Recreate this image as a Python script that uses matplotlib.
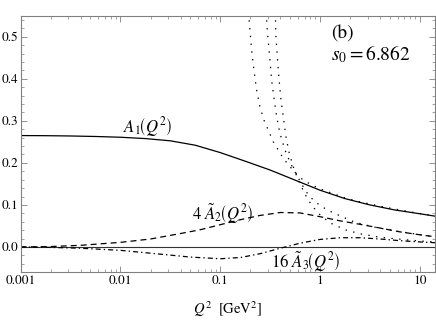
import numpy as np
import matplotlib
matplotlib.use("Agg")
from matplotlib import pyplot as plt
from matplotlib.ticker import LogLocator, MultipleLocator, FixedLocator, NullFormatter

plt.rcParams['font.family'] = ['STIXGeneral', 'DejaVu Serif']
plt.rcParams['mathtext.fontset'] = 'stix'
plt.rcParams['lines.scale_dashes'] = False

# A1 (solid)
q_a1 = [0.001, 0.00178, 0.00316, 0.00562, 0.01, 0.0178, 0.0316, 0.0562, 0.1, 0.178, 0.316,
        0.562, 1.0, 1.78, 3.16, 5.62, 10, 14.5]
a1 = [0.265, 0.2647, 0.2640, 0.2628, 0.2610, 0.2578, 0.2525, 0.2420, 0.2245, 0.2040, 0.1830,
      0.159, 0.135, 0.115, 0.100, 0.088, 0.079, 0.073]

# 4 A2 (dashed)
q_a2 = [0.001, 0.002, 0.004, 0.01, 0.02, 0.04, 0.063, 0.1, 0.16, 0.25, 0.4, 0.63, 1.0, 1.6, 2.5, 4.0, 6.3, 10, 14.5]
a2 = [0.0, 0.001, 0.004, 0.011, 0.019, 0.032, 0.041, 0.053, 0.065, 0.075, 0.082, 0.081, 0.072, 0.062, 0.054, 0.045, 0.036, 0.029, 0.024]

# 16 A3 (dash-dot)
q_a3 = [0.001, 0.002, 0.004, 0.01, 0.025, 0.05, 0.1, 0.16, 0.25, 0.4, 0.63, 1.0, 1.6, 2.5, 4.0, 6.3, 10, 14.5]
a3 = [0.0, -0.001, -0.003, -0.008, -0.017, -0.024, -0.028, -0.025, -0.016, -0.003, 0.009, 0.018, 0.022, 0.022, 0.019, 0.015, 0.012, 0.010]

# perturbative curves (dotted)
q_p1 = [0.1917, 0.2063, 0.2177, 0.2316, 0.2499, 0.2741, 0.3027, 0.3398, 0.3814, 0.4279, 0.4994,
        0.5829, 0.6742, 0.7922, 1.0, 1.346, 1.818, 2.5, 4.0, 8.0, 14.5]
p1 = [0.5576, 0.4675, 0.4201, 0.3727, 0.3332, 0.3017, 0.2780, 0.2502, 0.2306, 0.2109, 0.1910,
      0.1737, 0.1595, 0.1500, 0.1382, 0.1270, 0.1160, 0.1075, 0.0970, 0.0835, 0.0735]

q_p2 = [0.2884, 0.2958, 0.3148, 0.3273, 0.3476, 0.3674, 0.3964, 0.4450, 0.4994, 0.5604, 0.6289,
        0.7057, 0.7922, 0.9528, 1.172, 1.583, 2.237, 3.549, 6.32, 14.5]
p2 = [0.5576, 0.5149, 0.4438, 0.3964, 0.3490, 0.3095, 0.2701, 0.2306, 0.2021, 0.1784, 0.1571,
      0.1358, 0.1192, 0.1026, 0.0884, 0.0742, 0.0588, 0.0469, 0.0363, 0.0237]

q_p3 = [0.3565, 0.3614, 0.3814, 0.4029, 0.4279, 0.4554, 0.4914, 0.5389, 0.5869, 0.6436, 0.7224,
        0.8295, 1.0, 1.256, 1.776, 2.510, 3.983, 7.06, 14.5]
p3 = [0.5576, 0.4991, 0.4201, 0.3569, 0.3095, 0.2621, 0.2227, 0.1910, 0.1666, 0.1453, 0.1216,
      0.0979, 0.0765, 0.0576, 0.0410, 0.0315, 0.0232, 0.0173, 0.0114]

x_ticks = [0.001, 0.01, 0.1, 1, 10]
x_labels = ['0.001', '0.01', '0.1', '1', '10']

fig = plt.figure(figsize=(4.36, 3.21), dpi=100)
ax = fig.add_axes([0.0475, 0.152, 0.95, 0.799])

ax.axhline(0, color='#333333', lw=0.8)
ax.plot(q_a1, a1, color='black', lw=0.9)
ax.plot(q_a2, a2, color='black', lw=0.9, dashes=(4.3, 2.9))
ax.plot(q_a3, a3, color='black', lw=0.9, dashes=(3.6, 2.2, 1.0, 2.2))
for q, p in [(q_p1, p1), (q_p2, p2), (q_p3, p3)]:
    ax.plot(q, p, color='black', lw=0.9, dashes=(1.0, 4.6))

ax.set_xscale('log')
ax.set_xlim(0.001, 14.16)
ax.set_ylim(-0.06, 0.55)

ax.xaxis.set_major_locator(FixedLocator(x_ticks))
ax.set_xticklabels(x_labels)
ax.xaxis.set_minor_locator(LogLocator(base=10, subs=np.arange(2, 10)))
ax.xaxis.set_minor_formatter(NullFormatter())
ax.yaxis.set_major_locator(MultipleLocator(0.1))
ax.yaxis.set_minor_locator(MultipleLocator(0.02))
ax.yaxis.set_major_formatter(plt.FuncFormatter(lambda v, p: '%.1f' % v))

for s in ax.spines.values():
    s.set_color('#808080')
    s.set_linewidth(0.8)
ax.tick_params(which='both', direction='in', top=True, right=True, colors='#808080',
               labelcolor='black', labelsize=9.5)
ax.tick_params(which='major', length=4, width=0.6)
ax.tick_params(which='minor', length=2.2, width=0.5)
ax.tick_params(axis='x', pad=2)
ax.tick_params(axis='y', pad=2)

ax.set_xlabel(r'$Q^2\ \ [\mathrm{GeV}^2]$', fontsize=10.5, labelpad=9)

ax.text(0.0105, 0.272, r'$A_1\!\left(Q^2\right)$', fontsize=12)
ax.text(0.052, 0.063, r'$4\ \tilde{A}_2\!\left(Q^2\right)$', fontsize=12)
ax.text(0.32, -0.050, r'$16\ \tilde{A}_3\!\left(Q^2\right)$', fontsize=12)
ax.text(1.3, 0.495, '(b)', fontsize=14)
ax.text(1.3, 0.443, r'$s_0 = 6.862$', fontsize=14)

fig.savefig('out.png', dpi=100)
